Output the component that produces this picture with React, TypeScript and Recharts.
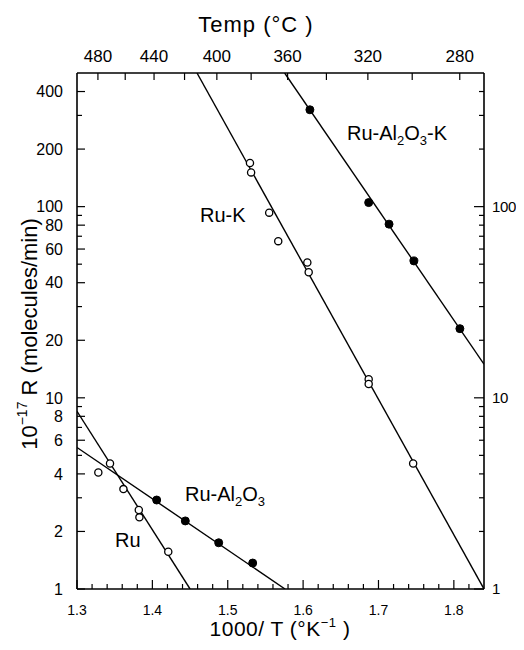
import React from "react";
import { ComposedChart, Line, Scatter, XAxis, YAxis } from "recharts";

const FONT = '"Liberation Sans", Arial, Helvetica, sans-serif';

// ---- axes ----
const xDomain: [number, number] = [1.3, 1.84];
const yDomain: [number, number] = [1, 500];
const bottomTicks = [1.3, 1.32, 1.34, 1.36, 1.38, 1.4, 1.42, 1.44, 1.46, 1.48, 1.5, 1.52, 1.54, 1.56, 1.58, 1.6, 1.62, 1.64, 1.66, 1.68, 1.7, 1.72, 1.74, 1.76, 1.78, 1.8, 1.82];
const bottomLabels = [1.3, 1.4, 1.5, 1.6, 1.7, 1.8];
const topTemps = [480, 460, 440, 420, 400, 380, 360, 340, 320, 300, 280];
const topTempLabels = [480, 440, 400, 360, 320, 280];
const leftTicks = [1, 2, 3, 4, 5, 6, 7, 8, 9, 10, 20, 30, 40, 50, 60, 70, 80, 90, 100, 200, 300, 400];
const leftLabels = [1, 2, 4, 6, 8, 10, 20, 40, 60, 80, 100, 200, 400];
const rightLabels = [1, 10, 100];

// ---- data (1000/T, 10^-17 R) ----
const ruAl2O3KPoints = [
  { x: 1.609, y: 321 },
  { x: 1.687, y: 105 },
  { x: 1.714, y: 81 },
  { x: 1.747, y: 52 },
  { x: 1.808, y: 23 },
];
const ruKPoints = [
  { x: 1.5295, y: 169 },
  { x: 1.531, y: 151 },
  { x: 1.555, y: 93 },
  { x: 1.567, y: 66 },
  { x: 1.6056, y: 51 },
  { x: 1.6074, y: 45.4 },
  { x: 1.687, y: 12.5 },
  { x: 1.687, y: 11.8 },
  { x: 1.746, y: 4.53 },
];
const ruAl2O3Points = [
  { x: 1.4057, y: 2.92 },
  { x: 1.4437, y: 2.27 },
  { x: 1.488, y: 1.745 },
  { x: 1.5331, y: 1.367 },
];
const ruPoints = [
  { x: 1.3283, y: 4.07 },
  { x: 1.3438, y: 4.53 },
  { x: 1.3616, y: 3.33 },
  { x: 1.382, y: 2.59 },
  { x: 1.3828, y: 2.37 },
  { x: 1.4211, y: 1.566 },
];

// fitted lines (end points)
const ruAl2O3KFit = [{ x: 1.5755, y: 500 }, { x: 1.84, y: 15 }];
const ruKFit = [{ x: 1.4592, y: 500 }, { x: 1.84, y: 1 }];
const ruAl2O3Fit = [{ x: 1.3, y: 5.5 }, { x: 1.576, y: 1 }];
const ruFit = [{ x: 1.3, y: 8.5 }, { x: 1.45, y: 1 }];

const topTicks = topTemps.map((t) => 1000 / (t + 273.15));

const near = (a: number, b: number) => Math.abs(a - b) < 1e-6;

const BottomTick = (props: any) => {
  const { x, y, payload } = props;
  const v = payload.value;
  const major = bottomLabels.some((l) => near(l, v));
  return (
    <g>
      <line x1={x} x2={x} y1={y} y2={y - (major ? 9 : 5)} stroke="#000" strokeWidth={1.2} />
      {major && (
        <text x={x} y={y + 26} textAnchor="middle" fontSize={14} fontFamily={FONT} fill="#000">
          {v.toFixed(1)}
        </text>
      )}
    </g>
  );
};

const TopTick = (props: any) => {
  const { x, y, payload } = props;
  const t = Math.round(1000 / payload.value - 273.15);
  const major = topTempLabels.includes(t);
  return (
    <g>
      <line x1={x} x2={x} y1={y} y2={y + 7} stroke="#000" strokeWidth={1.2} />
      {major && (
        <text x={x} y={y - 11} textAnchor="middle" fontSize={17} fontFamily={FONT} fill="#000">
          {t}
        </text>
      )}
    </g>
  );
};

const LeftTick = (props: any) => {
  const { x, y, payload } = props;
  const v = payload.value;
  const major = leftLabels.includes(v);
  return (
    <g>
      <line x1={x} x2={x + (major ? 8 : 5)} y1={y} y2={y} stroke="#000" strokeWidth={1.2} />
      {major && (
        <text x={x - 14} y={y} dy="0.36em" textAnchor="end" fontSize={16} fontFamily={FONT} fill="#000">
          {v}
        </text>
      )}
    </g>
  );
};

const RightTick = (props: any) => {
  const { x, y, payload } = props;
  const v = payload.value;
  const major = rightLabels.includes(v);
  return (
    <g>
      <line x1={x} x2={x - (major ? 10 : 5)} y1={y} y2={y} stroke="#000" strokeWidth={1.2} />
      {major && (
        <text x={x + 8} y={y} dy="0.36em" textAnchor="start" fontSize={15} letterSpacing={-0.4} fontFamily={FONT} fill="#000">
          {v}
        </text>
      )}
    </g>
  );
};

const OpenDot = (p: any) => <circle cx={p.cx} cy={p.cy} r={3.6} fill="#fff" stroke="#000" strokeWidth={1.3} />;
const FilledDot = (p: any) => <circle cx={p.cx} cy={p.cy} r={4} fill="#000" stroke="#000" strokeWidth={1} />;

const W = 516;
const H = 634;

export default function App() {
  const axisLine = { stroke: "#000", strokeWidth: 1.6 };
  return (
    <div style={{ position: "relative", width: W, height: H, fontFamily: FONT }}>
      <ComposedChart width={W} height={H} margin={{ top: 0, right: 0, bottom: 0, left: 0 }}>
        <XAxis
          xAxisId="b"
          type="number"
          dataKey="x"
          domain={xDomain}
          allowDataOverflow
          ticks={bottomTicks}
          interval={0}
          tick={(p: any) => <BottomTick {...p} />}
          tickLine={false}
          tickSize={0}
          tickMargin={0}
          axisLine={axisLine}
          height={53}
        />
        <XAxis
          xAxisId="t"
          orientation="top"
          type="number"
          dataKey="x"
          domain={xDomain}
          allowDataOverflow
          ticks={topTicks}
          interval={0}
          tick={(p: any) => <TopTick {...p} />}
          tickLine={false}
          tickSize={0}
          tickMargin={0}
          axisLine={axisLine}
          height={65}
        />
        <YAxis
          yAxisId="l"
          type="number"
          dataKey="y"
          scale="log"
          domain={yDomain}
          allowDataOverflow
          ticks={leftTicks}
          interval={0}
          tick={(p: any) => <LeftTick {...p} />}
          tickLine={false}
          tickSize={0}
          tickMargin={0}
          axisLine={axisLine}
          width={69}
        />
        <YAxis
          yAxisId="r"
          orientation="right"
          type="number"
          dataKey="y"
          scale="log"
          domain={yDomain}
          allowDataOverflow
          ticks={leftTicks}
          interval={0}
          tick={(p: any) => <RightTick {...p} />}
          tickLine={false}
          tickSize={0}
          tickMargin={0}
          axisLine={axisLine}
          width={40}
        />
        <Line xAxisId="t" yAxisId="r" data={ruAl2O3KFit} dataKey="y" type="linear" stroke="#000" strokeWidth={1.4} dot={false} isAnimationActive={false} />
        <Line xAxisId="b" yAxisId="l" data={ruKFit} dataKey="y" type="linear" stroke="#000" strokeWidth={1.4} dot={false} isAnimationActive={false} />
        <Line xAxisId="b" yAxisId="l" data={ruAl2O3Fit} dataKey="y" type="linear" stroke="#000" strokeWidth={1.4} dot={false} isAnimationActive={false} />
        <Line xAxisId="b" yAxisId="l" data={ruFit} dataKey="y" type="linear" stroke="#000" strokeWidth={1.4} dot={false} isAnimationActive={false} />
        <Scatter xAxisId="b" yAxisId="l" data={ruAl2O3KPoints} dataKey="y" shape={FilledDot} isAnimationActive={false} />
        <Scatter xAxisId="b" yAxisId="l" data={ruKPoints} dataKey="y" shape={OpenDot} isAnimationActive={false} />
        <Scatter xAxisId="b" yAxisId="l" data={ruAl2O3Points} dataKey="y" shape={FilledDot} isAnimationActive={false} />
        <Scatter xAxisId="b" yAxisId="l" data={ruPoints} dataKey="y" shape={OpenDot} isAnimationActive={false} />
      </ComposedChart>
      <svg width={W} height={H} style={{ position: "absolute", left: 0, top: 0, pointerEvents: "none", overflow: "visible" }}>
        <g fontFamily={FONT} fill="#000">
          <text x={248} y={24} textAnchor="middle" fontSize={22} letterSpacing={1}>
            Temp (°C )
          </text>
          <text x={272} y={628} textAnchor="middle" fontSize={21} letterSpacing={0.5}>
            1000/ T (°K
            <tspan fontSize={13} dy={-9}>−1</tspan>
            <tspan dy={9}> )</tspan>
          </text>
          <text x={29} y={326} textAnchor="middle" fontSize={22} transform="rotate(-90 29 326)">
            10
            <tspan fontSize={14} dy={-10}>−17</tspan>
            <tspan dy={10}> R (molecules/min)</tspan>
          </text>
          <text x={339} y={132} fontSize={20}>
            Ru-Al<tspan fontSize={13} dy={5}>2</tspan>
            <tspan dy={-5}>O</tspan>
            <tspan fontSize={13} dy={5}>3</tspan>
            <tspan dy={-5}>-K</tspan>
          </text>
          <text x={192} y={214} fontSize={20}>Ru-K</text>
          <text x={177} y={493} fontSize={20}>
            Ru-Al<tspan fontSize={13} dy={5}>2</tspan>
            <tspan dy={-5}>O</tspan>
            <tspan fontSize={13} dy={5}>3</tspan>
          </text>
          <text x={107} y={539} fontSize={20}>Ru</text>
        </g>
      </svg>
    </div>
  );
}
